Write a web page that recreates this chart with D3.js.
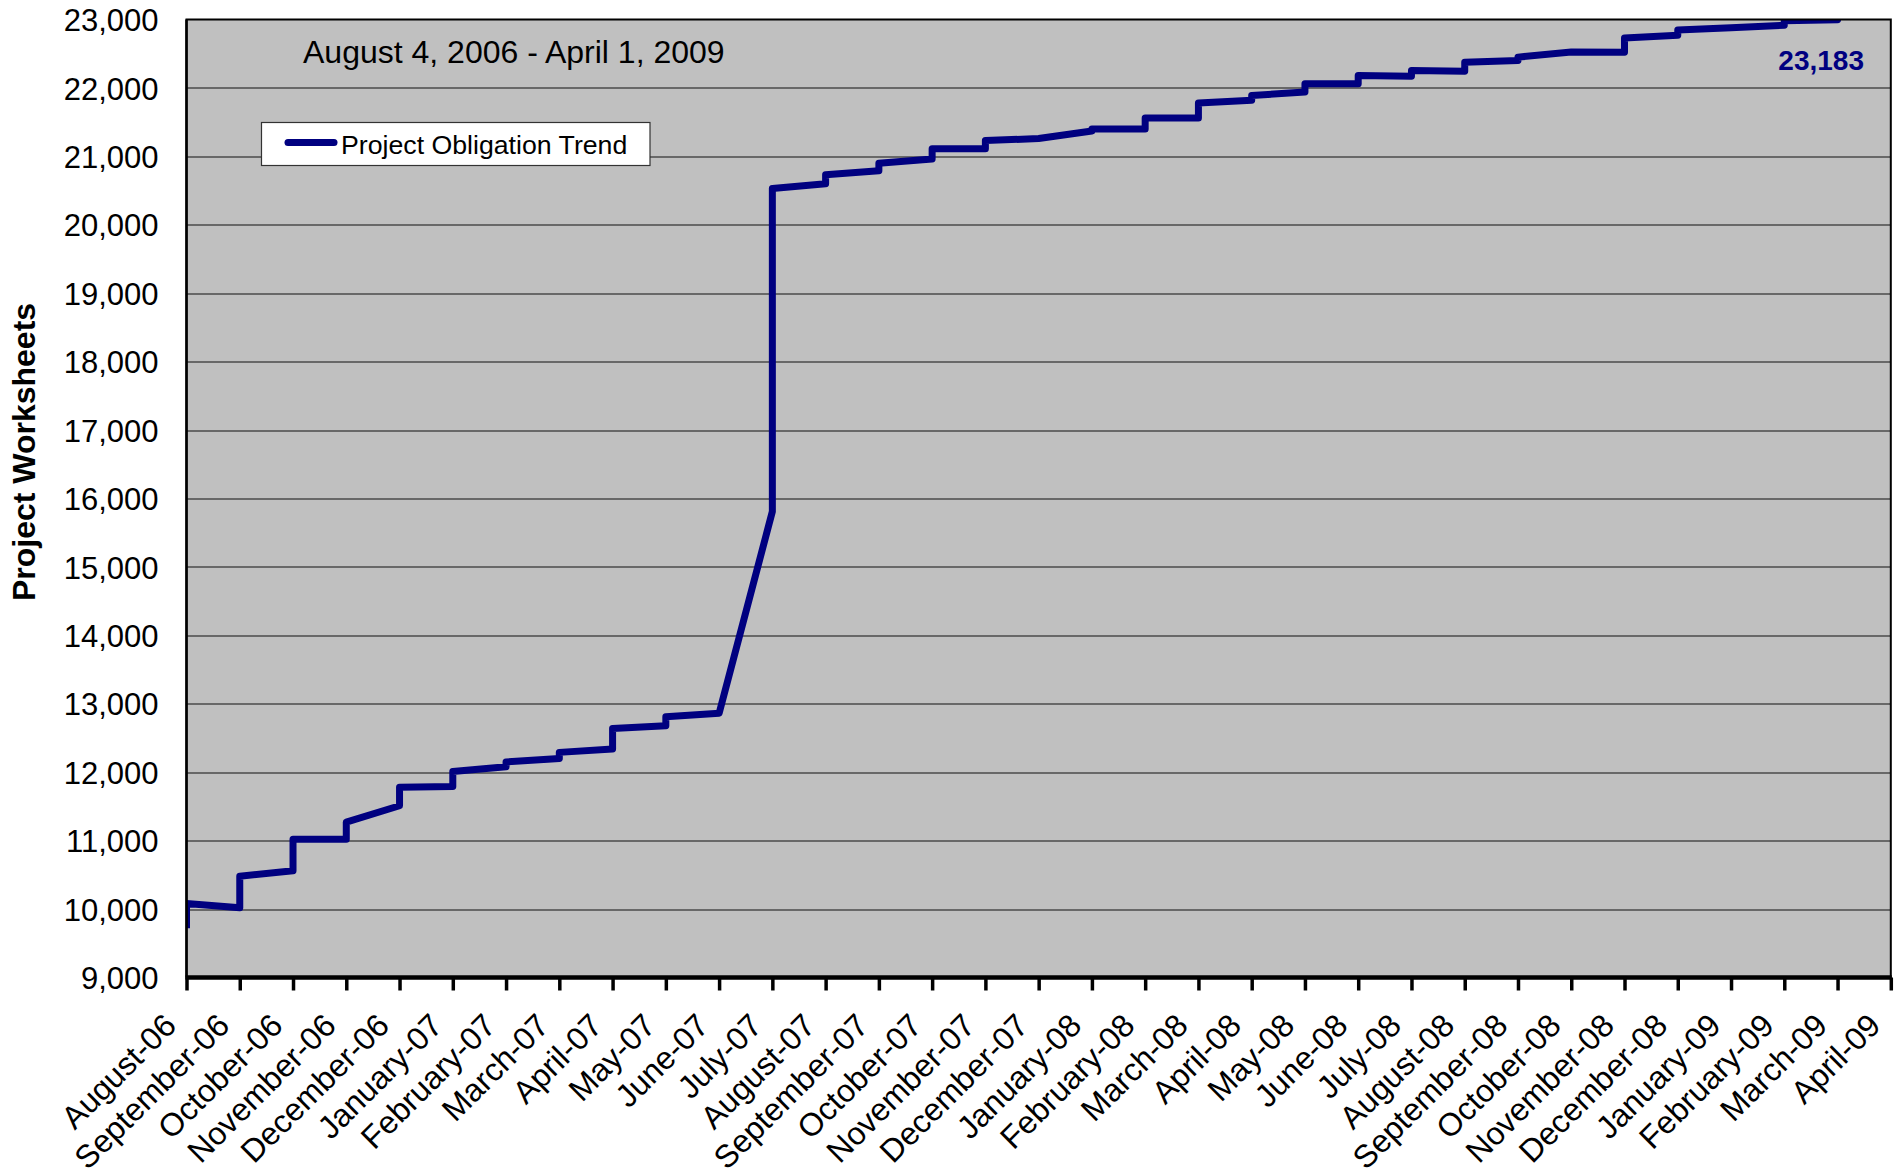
<!DOCTYPE html>
<html>
<head>
<meta charset="utf-8">
<title>Project Obligation Trend</title>
<script src="https://cdnjs.cloudflare.com/ajax/libs/d3/7.8.5/d3.min.js"></script>
<style>
	body { margin: 0; background: #fff; }
	svg { display: block; font-family: Arial, "Liberation Sans", sans-serif; }
</style>
</head>
<body>
<svg id="chart" width="1904" height="1176"></svg>
<script>

// month categories on the x axis (one tick each)
var monthLabels = [
	"August-06", "September-06", "October-06", "November-06", "December-06",
	"January-07", "February-07", "March-07", "April-07", "May-07", "June-07",
	"July-07", "August-07", "September-07", "October-07", "November-07", "December-07",
	"January-08", "February-08", "March-08", "April-08", "May-08", "June-08",
	"July-08", "August-08", "September-08", "October-08", "November-08", "December-08",
	"January-09", "February-09", "March-09", "April-09"
];

// first reading, before the jump at August-06
var firstValue = 9720;

// value just after the jump at the start of each month
var monthOpen = [
	10080, 10480, 11020, 11270, 11780, 12010, 12150, 12290, 12640, 12810, 12860,
	20530, 20730, 20900, 21110, 21230, 21260, 21400, 21560, 21780, 21890, 22060,
	22180, 22255, 22375, 22450, 22525, 22730, 22845, 22880, 22980, 23150
];

// value reached at the end of each month (before the next jump)
var monthClose = [
	10020, 10560, 11020, 11510, 11790, 12080, 12200, 12340, 12680, 12860, 15810,
	20600, 20790, 20960, 21110, 21260, 21370, 21400, 21560, 21820, 21940, 22060,
	22170, 22245, 22400, 22525, 22520, 22770, 22880, 22915, 22995, 23183
];

var yTicks = [9000, 10000, 11000, 12000, 13000, 14000, 15000, 16000,
	17000, 18000, 19000, 20000, 21000, 22000, 23000];

var seriesName = "Project Obligation Trend";
var dateRangeText = "August 4, 2006 - April 1, 2009";
var finalValueText = "23,183";
var yTitle = "Project Worksheets";

var margin = {top: 19.5, left: 186.5},
	width = 1704.3,
	height = 958;

var navy = "#000080";

var svg = d3.select("#chart");

svg.append("rect")
	.attr("width", 1904)
	.attr("height", 1176)
	.attr("fill", "#fff");

var x = d3.scaleLinear().domain([0, monthLabels.length - 1]).range([0, width]),
	y = d3.scaleLinear().domain([9000, 23000]).range([height, 0]);

var points = [{m: 0, v: firstValue}];
monthOpen.forEach(function(v, i) {
	points.push({m: i, v: v});
	points.push({m: i + 1, v: monthClose[i]});
});

var g = svg.append("g")
	.attr("transform", "translate(" + margin.left + "," + margin.top + ")");

svg.append("defs").append("clipPath")
	.attr("id", "plotclip")
	.append("rect")
	.attr("width", width)
	.attr("height", height);

// plot background
g.append("rect")
	.attr("width", width)
	.attr("height", height)
	.attr("fill", "#c0c0c0");

// gridlines
g.selectAll(".grid")
	.data(yTicks.filter(function(d) { return d > 9000 && d < 23000; }))
	.enter().append("line")
	.attr("class", "grid")
	.attr("x1", 0)
	.attr("x2", width)
	.attr("y1", function(d) { return Math.round(y(d)) + 0.5; })
	.attr("y2", function(d) { return Math.round(y(d)) + 0.5; })
	.attr("stroke", "#111")
	.attr("stroke-width", 1.2);

// the trend line
var line = d3.line()
	.x(function(d) { return x(d.m); })
	.y(function(d) { return y(d.v); });

g.append("path")
	.datum(points)
	.attr("clip-path", "url(#plotclip)")
	.attr("fill", "none")
	.attr("stroke", navy)
	.attr("stroke-width", 7)
	.attr("stroke-linejoin", "round")
	.attr("d", line);

// plot frame
g.append("rect")
	.attr("width", width)
	.attr("height", height)
	.attr("fill", "none")
	.attr("stroke", "#000")
	.attr("stroke-width", 2);

// y axis
var yAxis = g.append("g")
	.attr("class", "axis axis--y")
	.call(d3.axisLeft(y).tickValues(yTicks).tickSize(0).tickPadding(28).tickFormat(d3.format(",")));
yAxis.select(".domain").remove();
yAxis.selectAll("text")
	.attr("dy", "0.36em")
	.attr("fill", "#000")
	.style("font-size", "31px");

g.append("line")
	.attr("x1", 0).attr("x2", 0)
	.attr("y1", 0).attr("y2", height)
	.attr("stroke", "#000")
	.attr("stroke-width", 2.5);

// x axis
var xAxis = g.append("g")
	.attr("class", "axis axis--x")
	.attr("transform", "translate(0," + height + ")")
	.call(d3.axisBottom(x)
		.tickValues(d3.range(monthLabels.length))
		.tickSize(13)
		.tickFormat(function(i) { return monthLabels[i]; }));
xAxis.select(".domain").remove();
xAxis.selectAll(".tick line")
	.attr("stroke", "#000")
	.attr("stroke-width", 3.5);
xAxis.selectAll("text")
	.attr("x", null)
	.attr("y", null)
	.attr("dy", null)
	.attr("text-anchor", "end")
	.attr("transform", "translate(-9,50) rotate(-45)")
	.attr("fill", "#000")
	.style("font-size", "32px");

g.append("line")
	.attr("x1", -1).attr("x2", width + 1)
	.attr("y1", height).attr("y2", height)
	.attr("stroke", "#000")
	.attr("stroke-width", 4.5);

// y axis title
svg.append("text")
	.attr("transform", "translate(35,452) rotate(-90)")
	.attr("text-anchor", "middle")
	.style("font-size", "32px")
	.style("font-weight", "bold")
	.text(yTitle);

// date range caption
svg.append("text")
	.attr("x", 303)
	.attr("y", 63)
	.style("font-size", "32px")
	.text(dateRangeText);

// legend
var legend = svg.append("g");
legend.append("rect")
	.attr("x", 261.5)
	.attr("y", 122.5)
	.attr("width", 388.5)
	.attr("height", 43)
	.attr("fill", "#fff")
	.attr("stroke", "#333")
	.attr("stroke-width", 1.2);
legend.append("line")
	.attr("x1", 288).attr("x2", 334)
	.attr("y1", 142.5).attr("y2", 142.5)
	.attr("stroke", navy)
	.attr("stroke-width", 7)
	.attr("stroke-linecap", "round");
legend.append("text")
	.attr("x", 341)
	.attr("y", 154)
	.style("font-size", "26.7px")
	.text(seriesName);

// final value label
svg.append("text")
	.attr("x", 1864)
	.attr("y", 70)
	.attr("text-anchor", "end")
	.attr("fill", navy)
	.style("font-size", "28px")
	.style("font-weight", "bold")
	.text(finalValueText);

</script>
</body>
</html>
